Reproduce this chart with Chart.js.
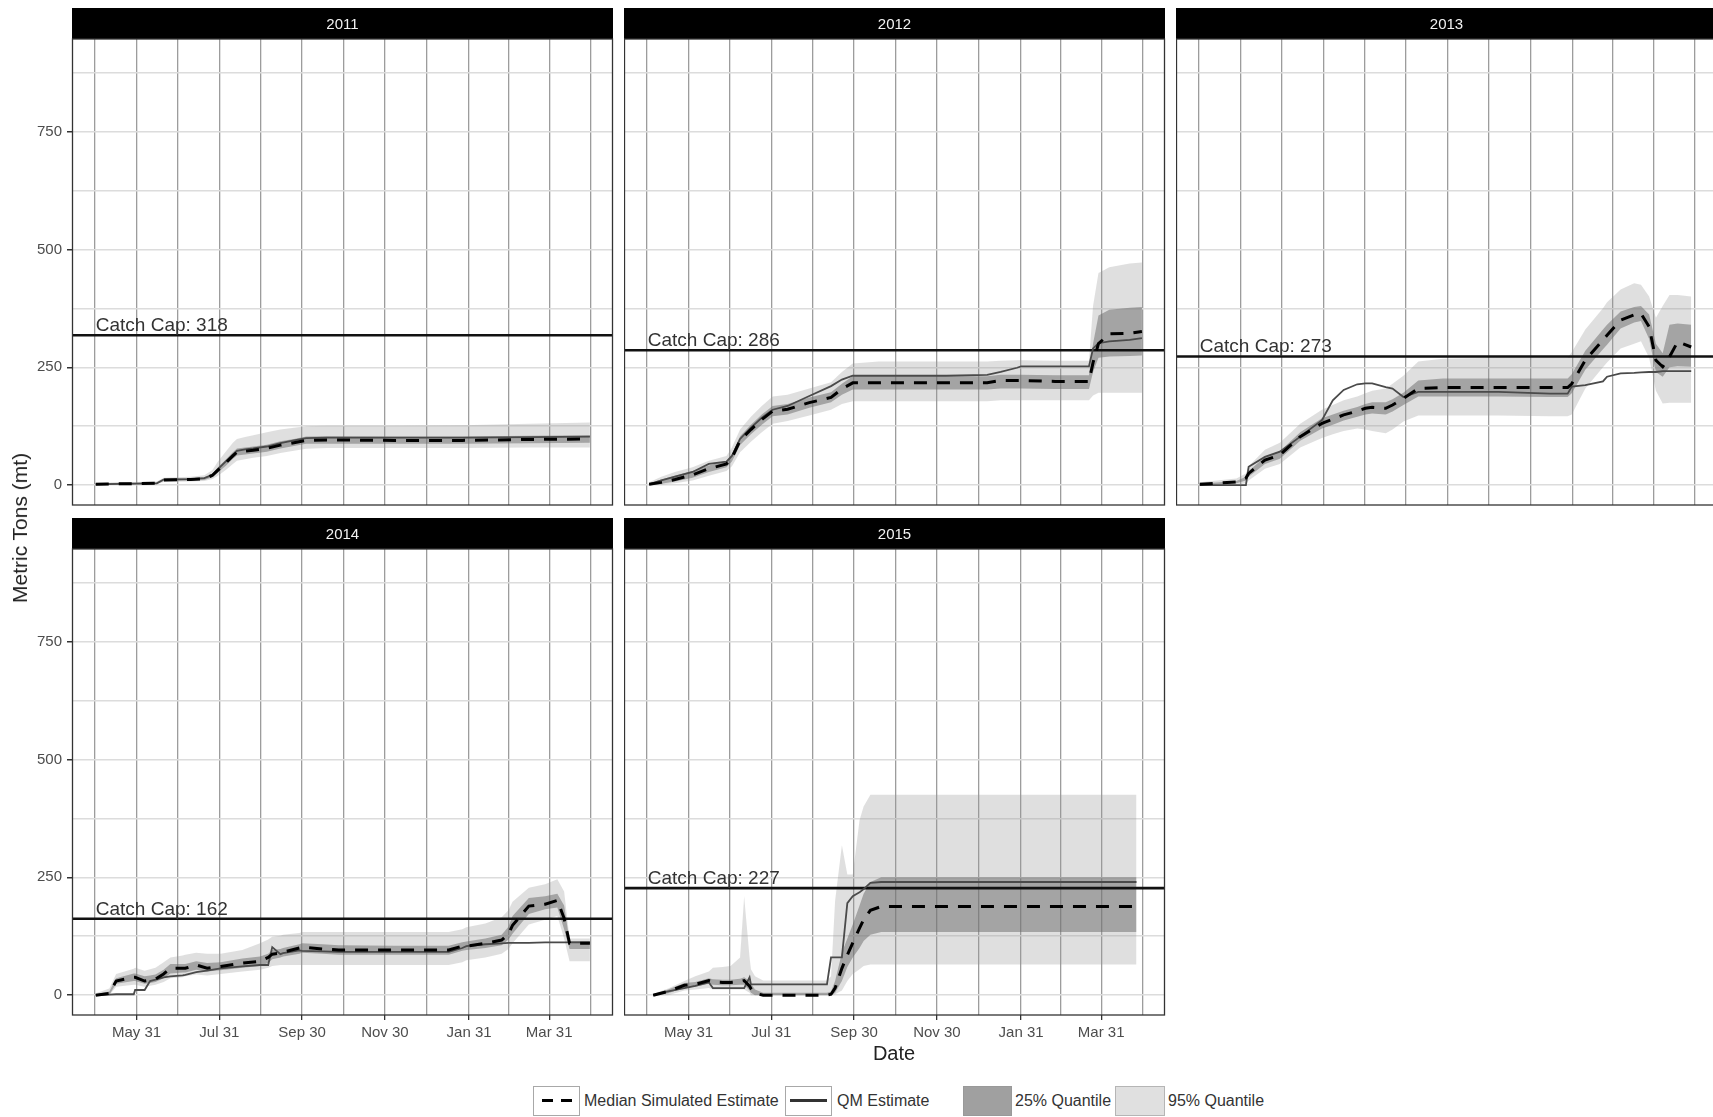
<!DOCTYPE html>
<html>
<head>
<meta charset="utf-8">
<script src="https://cdn.jsdelivr.net/npm/chart.js@4.4.1/dist/chart.umd.min.js"></script>
<style>
  body { margin: 0; width: 1713px; height: 1117px; overflow: hidden; background: #fff;
         font-family: "Liberation Sans", Arial, Helvetica, sans-serif; }
  canvas { position: absolute; }
  .lbl { position: absolute; white-space: nowrap; color: #222; }
  .key { position: absolute; top: 1086px; height: 30px; box-sizing: border-box; border: 1px solid #a8a8a8; background: #fff; }
  .keytxt { position: absolute; top: 1091px; font-size: 16px; line-height: 20px; color: #333; white-space: nowrap; }
</style>
</head>
<body>
<div id="wrap"></div>
<div class="lbl" style="left:20px;top:528px;font-size:21px;transform:translate(-50%,-50%) rotate(-90deg);">Metric Tons (mt)</div>
<div class="lbl" style="left:894px;top:1053px;font-size:20px;transform:translate(-50%,-50%);">Date</div>

<!-- leyenda -->
<div class="key" style="left:533px;width:47px;">
  <div style="position:absolute;left:8px;top:12px;width:11px;height:3px;background:#000;"></div>
  <div style="position:absolute;left:27px;top:12px;width:11px;height:3px;background:#000;"></div>
</div>
<div class="keytxt" style="left:584px;">Median Simulated Estimate</div>
<div class="key" style="left:785px;width:47px;">
  <div style="position:absolute;left:4px;top:12px;width:37px;height:3px;background:#333;"></div>
</div>
<div class="keytxt" style="left:837px;">QM Estimate</div>
<div class="key" style="left:963px;width:49px;background:#a0a0a0;border-color:#999;"></div>
<div class="keytxt" style="left:1015px;">25% Quantile</div>
<div class="key" style="left:1115px;width:50px;background:#e0e0e0;border-color:#b5b5b5;"></div>
<div class="keytxt" style="left:1168px;">95% Quantile</div>

<script>
// Datos (x = días desde el 1 de abril, y = toneladas métricas)
const years = ['2011', '2012', '2013', '2014', '2015'];
const catchCaps = [318, 286, 273, 162, 227];
const xTickDays = [60, 121, 182, 243, 305, 364];
const xTickLabels = ['May 31', 'Jul 31', 'Sep 30', 'Nov 30', 'Jan 31', 'Mar 31'];
const xMinorDays = [29.5, 90.5, 151.5, 212.5, 274, 334.5, 394.5];
const yTickVals = [0, 250, 500, 750];
const yMinorVals = [125, 375, 625, 875];

const days2011 = [30, 50, 75, 80, 100, 110, 116, 120, 126, 131, 134, 140, 146, 156, 166, 176, 185, 200, 250, 300, 350, 394];
const median2011 = [2, 3, 4, 11, 12, 14, 21, 32, 48, 62, 70, 72, 74, 78, 85, 90, 95, 96, 95, 95, 97, 98];
const qm2011 = [2, 3, 4, 12, 13, 15, 22, 34, 51, 65, 73, 76, 78, 82, 89, 95, 100, 101, 101, 101, 102, 103];
const hi25_2011 = [4, 5, 6, 14, 15, 17, 25, 38, 55, 70, 78, 80, 82, 86, 93, 98, 103, 104, 103, 103, 105, 106];
const lo25_2011 = [1, 2, 3, 9, 10, 11, 17, 27, 42, 56, 63, 65, 67, 71, 78, 83, 88, 88, 88, 88, 89, 90];
const hi95_2011 = [5, 6, 8, 16, 18, 21, 32, 50, 72, 90, 98, 102, 106, 112, 118, 122, 125, 126, 126, 127, 130, 133];
const lo95_2011 = [0, 1, 2, 7, 8, 9, 13, 20, 33, 45, 52, 55, 58, 62, 68, 73, 77, 79, 79, 79, 80, 80];

const days2012 = [31, 40, 50, 63, 75, 88, 92, 98, 106, 114, 122, 133, 149, 165, 173, 181, 200, 250, 280, 290, 302, 305, 330, 355, 358, 362, 370, 385, 394];
const median2012 = [2, 6, 12, 22, 35, 45, 58, 95, 118, 139, 157, 161, 175, 186, 204, 217, 217, 217, 217, 222, 222, 222, 220, 220, 260, 300, 321, 322, 326];
const qm2012 = [2, 10, 18, 28, 45, 50, 62, 98, 122, 143, 160, 168, 189, 210, 224, 232, 232, 232, 234, 240, 249, 252, 252, 252, 290, 301, 305, 308, 312];
const hi25_2012 = [4, 12, 20, 30, 42, 52, 66, 104, 128, 150, 168, 172, 186, 197, 215, 231, 231, 231, 231, 234, 234, 234, 233, 233, 300, 360, 372, 376, 378];
const lo25_2012 = [0, 3, 8, 16, 28, 38, 50, 85, 108, 128, 146, 150, 164, 176, 192, 203, 203, 203, 203, 205, 205, 205, 204, 204, 240, 270, 273, 274, 275];
const hi95_2012 = [6, 18, 28, 38, 52, 62, 80, 118, 145, 168, 188, 192, 205, 218, 240, 258, 262, 262, 262, 264, 265, 265, 264, 264, 380, 450, 462, 470, 472];
const lo95_2012 = [0, 1, 4, 10, 20, 30, 40, 70, 92, 112, 130, 136, 148, 160, 172, 178, 178, 178, 178, 180, 180, 180, 180, 180, 190, 196, 196, 196, 196];

const days2013 = [30, 57, 64, 66, 78, 89, 104, 120, 128, 136, 146, 152, 157, 167, 172, 180, 191, 209, 250, 288, 301, 304, 314, 327, 330, 340, 350, 355, 361, 366, 371, 376, 382, 392];
const median2013 = [2, 7, 15, 25, 53, 64, 103, 131, 140, 149, 157, 163, 165, 163, 170, 184, 205, 207, 207, 207, 207, 215, 265, 308, 318, 350, 361, 364, 336, 265, 251, 272, 304, 293];
const qm2013 = [0, 0, 0, 39, 60, 71, 103, 138, 180, 202, 214, 216, 216, 208, 205, 187, 198, 198, 198, 194, 194, 209, 212, 220, 230, 237, 238, 239, 240, 240, 242, 242, 242, 242];
const hi25_2013 = [3, 9, 18, 30, 60, 72, 112, 142, 150, 158, 166, 172, 176, 176, 182, 196, 222, 226, 226, 226, 226, 235, 285, 330, 340, 368, 378, 380, 362, 300, 280, 340, 343, 340];
const lo25_2013 = [0, 4, 10, 18, 45, 56, 94, 120, 128, 137, 145, 150, 152, 150, 156, 170, 188, 188, 188, 187, 187, 195, 245, 288, 298, 332, 345, 348, 310, 240, 230, 250, 252, 251];
const hi95_2013 = [6, 14, 25, 40, 75, 90, 130, 160, 170, 180, 188, 195, 200, 205, 215, 232, 262, 268, 270, 270, 270, 282, 330, 375, 388, 415, 428, 425, 400, 355, 380, 403, 403, 400];
const lo95_2013 = [0, 1, 4, 10, 35, 45, 80, 100, 108, 115, 120, 118, 115, 110, 118, 135, 148, 148, 148, 146, 146, 150, 205, 250, 260, 290, 300, 305, 270, 200, 173, 175, 175, 175];

const days2014 = [30, 40, 45, 58, 59, 66, 70, 74, 80, 85, 94, 96, 104, 112, 122, 138, 151, 157, 160, 166, 168, 180, 182, 197, 209, 250, 290, 300, 303, 317, 329, 334, 337, 349, 361, 370, 375, 379, 394];
const median2014 = [0, 4, 30, 38, 38, 30, 32, 34, 45, 57, 57, 57, 64, 57, 61, 68, 72, 80, 87, 89, 91, 100, 102, 98, 96, 96, 96, 104, 104, 110, 117, 130, 148, 189, 193, 201, 163, 110, 110];
const qm2014 = [0, 1, 2, 2, 11, 11, 30, 33, 38, 40, 42, 43, 49, 52, 57, 61, 64, 64, 102, 87, 89, 95, 94, 93, 92, 92, 92, 100, 104, 108, 110, 111, 111, 111, 112, 112, 112, 112, 112];
const hi25_2014 = [2, 8, 36, 46, 46, 40, 42, 44, 54, 66, 66, 66, 72, 68, 70, 78, 82, 88, 96, 98, 100, 108, 110, 108, 106, 105, 105, 112, 114, 120, 128, 145, 168, 206, 210, 215, 190, 115, 115];
const lo25_2014 = [0, 1, 24, 30, 30, 24, 26, 28, 36, 46, 48, 48, 54, 50, 53, 58, 62, 68, 76, 80, 82, 88, 90, 88, 86, 86, 86, 94, 96, 100, 106, 118, 130, 172, 182, 186, 140, 98, 98];
const hi95_2014 = [4, 14, 45, 56, 58, 52, 55, 58, 70, 80, 84, 86, 90, 88, 88, 96, 110, 118, 124, 126, 128, 132, 134, 134, 134, 134, 134, 140, 144, 152, 165, 180, 198, 228, 235, 246, 220, 120, 120];
const lo95_2014 = [0, 0, 18, 22, 22, 18, 20, 22, 28, 36, 38, 40, 44, 42, 45, 50, 54, 58, 62, 64, 64, 64, 64, 64, 64, 64, 64, 70, 74, 80, 88, 98, 110, 150, 160, 168, 120, 72, 72];

const days2015 = [34, 45, 57, 65, 75, 78, 85, 91, 98, 101, 105, 106, 109, 115, 140, 162, 165, 168, 173, 177, 181, 186, 189, 194, 202, 250, 300, 350, 390];
const median2015 = [0, 8, 21, 23, 31, 28, 27, 27, 29, 31, 19, 14, 4, 0, 0, 0, 2, 15, 57, 85, 111, 142, 160, 180, 188, 188, 188, 188, 188];
const qm2015 = [0, 8, 15, 20, 27, 15, 15, 15, 15, 15, 38, 23, 23, 23, 23, 23, 80, 80, 80, 195, 210, 218, 225, 238, 240, 240, 240, 240, 240];
const hi25_2015 = [2, 12, 26, 28, 36, 34, 33, 33, 35, 38, 30, 25, 12, 5, 5, 5, 8, 30, 90, 120, 150, 190, 215, 240, 250, 250, 250, 250, 250];
const lo25_2015 = [0, 4, 16, 18, 24, 22, 21, 21, 22, 22, 10, 5, 0, 0, 0, 0, 0, 5, 30, 60, 80, 100, 115, 128, 134, 134, 134, 134, 134];
const hi95_2015 = [3, 14, 30, 40, 50, 58, 60, 62, 80, 210, 80, 55, 40, 31, 31, 31, 40, 200, 318, 256, 256, 371, 400, 425, 425, 425, 425, 425, 425];
const lo95_2015 = [0, 0, 10, 12, 15, 12, 12, 12, 12, 12, 5, 0, 0, 0, 0, 0, 0, 2, 10, 30, 45, 55, 62, 65, 65, 65, 65, 65, 65];

const X_MIN = 12.5, X_MAX = 411;
const Y_MIN = -42, Y_MAX = 946;

const seriesByYear = {
    '2011': { days: days2011, median: median2011, qm: qm2011, hi25: hi25_2011, lo25: lo25_2011, hi95: hi95_2011, lo95: lo95_2011 },
    '2012': { days: days2012, median: median2012, qm: qm2012, hi25: hi25_2012, lo25: lo25_2012, hi95: hi95_2012, lo95: lo95_2012 },
    '2013': { days: days2013, median: median2013, qm: qm2013, hi25: hi25_2013, lo25: lo25_2013, hi95: hi95_2013, lo95: lo95_2013 },
    '2014': { days: days2014, median: median2014, qm: qm2014, hi25: hi25_2014, lo25: lo25_2014, hi95: hi95_2014, lo95: lo95_2014 },
    '2015': { days: days2015, median: median2015, qm: qm2015, hi25: hi25_2015, lo25: lo25_2015, hi95: hi95_2015, lo95: lo95_2015 }
};

// Posición de cada panel en la página
const PANEL_W = 541, PLOT_H = 466, STRIP_H = 31, X_AXIS_H = 30, Y_AXIS_W = 72;
const panels = [
    { left: 72,   top: 8,   yLabels: true,  xLabels: false },
    { left: 624,  top: 8,   yLabels: false, xLabels: false },
    { left: 1176, top: 8,   yLabels: false, xLabels: false },
    { left: 72,   top: 518, yLabels: true,  xLabels: true },
    { left: 624,  top: 518, yLabels: false, xLabels: true }
];

const FONT = '"Liberation Sans", Arial, Helvetica, sans-serif';

function puntos(days, vals) {
    return days.map((d, i) => ({ x: d, y: vals[i] }));
}

// Tira negra con el año, borde del panel y etiqueta del tope de captura
const panelFrame = {
    id: 'panelFrame',
    afterDatasetsDraw(chart, args, opts) {
        const ctx = chart.ctx;
        const y = chart.scales.y.getPixelForValue(opts.cap);
        const x = chart.scales.x.getPixelForValue(30);
        ctx.save();
        ctx.fillStyle = '#333';
        ctx.font = '19px ' + FONT;
        ctx.textAlign = 'left';
        ctx.textBaseline = 'alphabetic';
        ctx.fillText('Catch Cap: ' + opts.cap, x, y - 4);
        ctx.restore();
    },
    afterDraw(chart, args, opts) {
        const ctx = chart.ctx;
        const a = chart.chartArea;
        ctx.save();
        ctx.fillStyle = '#000';
        ctx.fillRect(a.left, a.top - STRIP_H, a.right - a.left, STRIP_H);
        ctx.fillStyle = '#f2f2f2';
        ctx.font = '15px ' + FONT;
        ctx.textAlign = 'center';
        ctx.textBaseline = 'middle';
        ctx.fillText(opts.title, (a.left + a.right) / 2, a.top - STRIP_H / 2 + 1);
        ctx.strokeStyle = '#333';
        ctx.lineWidth = 1.3;
        ctx.strokeRect(a.left + 0.5, a.top, a.right - a.left - 1, a.bottom - a.top);
        ctx.restore();
    }
};

const wrap = document.getElementById('wrap');

years.forEach((year, k) => {
    const p = panels[k];
    const s = seriesByYear[year];
    const yW = p.yLabels ? Y_AXIS_W : 0;
    const xH = p.xLabels ? X_AXIS_H : 0;

    const canvas = document.createElement('canvas');
    canvas.width = yW + PANEL_W + 1;
    canvas.height = STRIP_H + PLOT_H + (p.xLabels ? X_AXIS_H : 1);
    canvas.style.left = (p.left - yW) + 'px';
    canvas.style.top = p.top + 'px';
    wrap.appendChild(canvas);

    const xTicksAll = xMinorDays.concat(xTickDays).sort((a, b) => a - b);
    const yTicksAll = yTickVals.concat(yMinorVals).sort((a, b) => a - b);

    new Chart(canvas.getContext('2d'), {
        type: 'line',
        data: {
            datasets: [
                { data: puntos(s.days, s.hi95), fill: '+1', backgroundColor: 'rgba(150,150,150,0.3)', borderWidth: 0, order: 4 },
                { data: puntos(s.days, s.lo95), fill: false, borderWidth: 0, order: 4 },
                { data: puntos(s.days, s.hi25), fill: '+1', backgroundColor: 'rgba(105,105,105,0.5)', borderWidth: 0, order: 3 },
                { data: puntos(s.days, s.lo25), fill: false, borderWidth: 0, order: 3 },
                { data: [{ x: X_MIN, y: catchCaps[k] }, { x: X_MAX, y: catchCaps[k] }], borderColor: '#111', borderWidth: 2.6, order: 2 },
                { data: puntos(s.days, s.qm), borderColor: '#4a4a4a', borderWidth: 1.8, order: 1 },
                { data: puntos(s.days, s.median), borderColor: '#000', borderWidth: 3, borderDash: [13, 10], order: 0 }
            ]
        },
        options: {
            responsive: false,
            animation: false,
            events: [],
            elements: { point: { radius: 0 }, line: { tension: 0, fill: false } },
            layout: { padding: { top: STRIP_H, right: 1, bottom: p.xLabels ? 0 : 1, left: 0 } },
            plugins: {
                legend: { display: false },
                tooltip: { enabled: false },
                panelFrame: { title: year, cap: catchCaps[k] }
            },
            scales: {
                x: {
                    type: 'linear',
                    min: X_MIN,
                    max: X_MAX,
                    afterBuildTicks: sc => { sc.ticks = xTicksAll.map(v => ({ value: v })); },
                    afterFit: sc => { sc.height = xH; sc.paddingLeft = 0; sc.paddingRight = 0; },
                    border: { display: false },
                    grid: {
                        color: '#9c9c9c',
                        lineWidth: 1.3,
                        drawTicks: p.xLabels,
                        tickLength: 5,
                        tickColor: ctx => xTickDays.includes(ctx.tick.value) ? '#333' : 'rgba(0,0,0,0)'
                    },
                    ticks: {
                        display: p.xLabels,
                        autoSkip: false,
                        maxRotation: 0,
                        padding: 4,
                        color: '#4d4d4d',
                        font: { size: 15, family: FONT },
                        callback: v => {
                            const i = xTickDays.indexOf(v);
                            return i >= 0 ? xTickLabels[i] : '';
                        }
                    }
                },
                y: {
                    type: 'linear',
                    min: Y_MIN,
                    max: Y_MAX,
                    afterBuildTicks: sc => { sc.ticks = yTicksAll.map(v => ({ value: v })); },
                    afterFit: sc => { sc.width = yW; sc.paddingTop = 0; sc.paddingBottom = 0; },
                    border: { display: false },
                    grid: {
                        color: '#dcdcdc',
                        lineWidth: 1.5,
                        drawTicks: p.yLabels,
                        tickLength: 5,
                        tickColor: ctx => yTickVals.includes(ctx.tick.value) ? '#333' : 'rgba(0,0,0,0)'
                    },
                    ticks: {
                        display: p.yLabels,
                        autoSkip: false,
                        padding: 5,
                        color: '#4d4d4d',
                        font: { size: 15, family: FONT },
                        callback: v => yTickVals.includes(v) ? String(v) : ''
                    }
                }
            }
        },
        plugins: [panelFrame]
    });
});
</script>
</body>
</html>
